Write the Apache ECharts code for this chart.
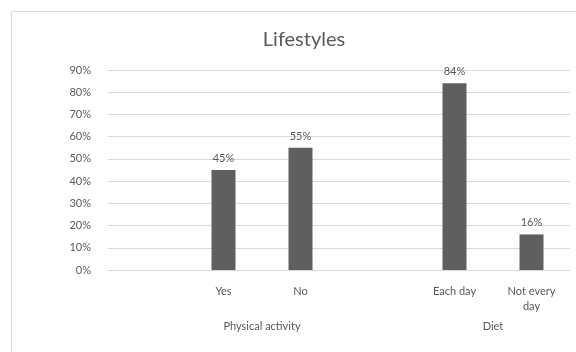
<!DOCTYPE html>
<html>
<head>
<meta charset="utf-8">
<script src="https://cdn.jsdelivr.net/npm/echarts@6/dist/echarts.min.js"></script>
<style>
  html, body { margin: 0; padding: 0; background: #fff; }
  #chart { width: 576px; height: 352px; }
</style>
</head>
<body>
<div id="chart"></div>
<script>
// categories (blank slots kept like the spreadsheet)
var categories = ["", "Yes", "No", "", "Each day", "Not every\nday"];
var values = [null, 0.45, 0.55, null, 0.84, 0.16];
// group labels and where they sit on the category scale
var groups = ["Physical activity", "Diet"];
var groupPos = [1.5, 4.5];

var textColor = "#595959";
var font = "Lato, 'Open Sans', sans-serif";

var chart = echarts.init(document.getElementById("chart"));
chart.setOption({
  animation: false,
  textStyle: { fontFamily: font },
  title: {
    text: "Lifestyles",
    left: 299,
    textAlign: "center",
    top: 25,
    textStyle: { color: textColor, fontSize: 20, fontWeight: "normal", fontFamily: font }
  },
  graphic: [
    {
      type: "rect",
      shape: { x: 11.5, y: 11.5, width: 600, height: 400 },
      style: { fill: "none", stroke: "#d9d9d9", lineWidth: 1 },
      silent: true
    }
  ],
  grid: { left: 108, right: 6, top: 70, bottom: 82, containLabel: false },
  xAxis: [
    {
      type: "category",
      data: categories,
      axisLine: { lineStyle: { color: "#d9d9d9" } },
      axisTick: { show: false },
      axisLabel: {
        color: textColor,
        fontSize: 11,
        margin: 14,
        interval: 0,
        lineHeight: 15
      }
    },
    {
      type: "value",
      position: "bottom",
      min: -0.5,
      max: 5.5,
      axisLine: { show: false },
      axisTick: { show: false },
      splitLine: { show: false },
      axisLabel: {
        color: textColor,
        fontSize: 11,
        margin: 51,
        customValues: groupPos,
        formatter: function (v) {
          var i = groupPos.indexOf(v);
          return i >= 0 ? groups[i] : "";
        }
      }
    }
  ],
  yAxis: {
    type: "value",
    min: 0,
    max: 0.9,
    interval: 0.1,
    axisLine: { show: false },
    axisTick: { show: false },
    splitLine: { lineStyle: { color: "#d9d9d9" } },
    axisLabel: {
      color: textColor,
      fontSize: 11,
      margin: 17,
      formatter: function (v) { return Math.round(v * 100) + "%"; }
    }
  },
  series: [
    {
      type: "bar",
      xAxisIndex: 0,
      data: values,
      barWidth: 24,
      itemStyle: { color: "#5f5f5f" },
      label: {
        show: true,
        position: "top",
        distance: 6,
        color: textColor,
        fontSize: 11,
        formatter: function (p) { return Math.round(p.value * 100) + "%"; }
      }
    }
  ]
});
</script>
</body>
</html>
